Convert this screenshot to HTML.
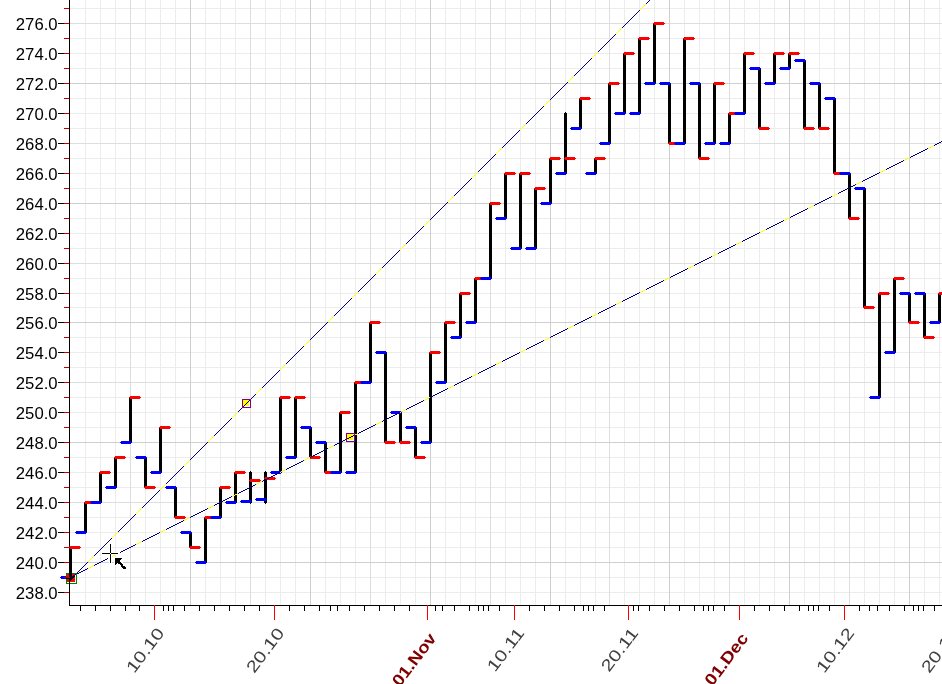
<!DOCTYPE html>
<html><head><meta charset="utf-8"><title>Chart</title>
<style>html,body{margin:0;padding:0;background:#fff;overflow:hidden}body{width:942px;height:684px;position:relative}</style></head>
<body>
<svg width="942" height="684" viewBox="0 0 942 684" style="display:block;position:absolute;left:0;top:0">
<rect width="942" height="684" fill="#fff"/>
<path d="M85.5 0V605M100.5 0V605M115.5 0V605M145.5 0V605M160.5 0V605M175.5 0V605M205.5 0V605M220.5 0V605M235.5 0V605M265.5 0V605M280.5 0V605M295.5 0V605M325.5 0V605M340.5 0V605M355.5 0V605M385.5 0V605M400.5 0V605M415.5 0V605M445.5 0V605M460.5 0V605M475.5 0V605M505.5 0V605M520.5 0V605M535.5 0V605M565.5 0V605M580.5 0V605M595.5 0V605M624.5 0V605M639.5 0V605M654.5 0V605M684.5 0V605M699.5 0V605M714.5 0V605M744.5 0V605M759.5 0V605M774.5 0V605M804.5 0V605M819.5 0V605M834.5 0V605M864.5 0V605M879.5 0V605M894.5 0V605M924.5 0V605M939.5 0V605M70 592.5H942M70 577.5H942M70 547.5H942M70 532.5H942M70 517.5H942M70 487.5H942M70 472.5H942M70 457.5H942M70 427.5H942M70 412.5H942M70 397.5H942M70 367.5H942M70 352.5H942M70 337.5H942M70 307.5H942M70 293.5H942M70 278.5H942M70 248.5H942M70 233.5H942M70 218.5H942M70 188.5H942M70 173.5H942M70 158.5H942M70 128.5H942M70 113.5H942M70 98.5H942M70 68.5H942M70 53.5H942M70 38.5H942M70 8.5H942" stroke="#ececec" stroke-width="1" fill="none" shape-rendering="crispEdges"/>
<path d="M130.5 0V605M250.5 0V605M370.5 0V605M490.5 0V605M609.5 0V605M729.5 0V605M849.5 0V605M70 502.5H942M70 382.5H942M70 263.5H942M70 143.5H942M70 23.5H942" stroke="#dedede" stroke-width="1" fill="none" shape-rendering="crispEdges"/>
<path d="M190.5 0V605M310.5 0V605M430.5 0V605M550.5 0V605M669.5 0V605M789.5 0V605M909.5 0V605M70 562.5H942M70 442.5H942M70 322.5H942M70 203.5H942M70 83.5H942" stroke="#cfcfcf" stroke-width="1" fill="none" shape-rendering="crispEdges"/>
<path d="M58 592.5H64M58 562.5H64M58 532.5H64M58 502.5H64M58 472.5H64M58 442.5H64M58 412.5H64M58 382.5H64M58 352.5H64M58 322.5H64M58 293.5H64M58 263.5H64M58 233.5H64M58 203.5H64M58 173.5H64M58 143.5H64M58 113.5H64M58 83.5H64M58 53.5H64M58 23.5H64" stroke="#000" stroke-width="1" shape-rendering="crispEdges"/>
<path d="M64 592.5H69M64 577.5H69M64 562.5H69M64 547.5H69M64 532.5H69M64 517.5H69M64 502.5H69M64 487.5H69M64 472.5H69M64 457.5H69M64 442.5H69M64 427.5H69M64 412.5H69M64 397.5H69M64 382.5H69M64 367.5H69M64 352.5H69M64 337.5H69M64 322.5H69M64 307.5H69M64 293.5H69M64 278.5H69M64 263.5H69M64 248.5H69M64 233.5H69M64 218.5H69M64 203.5H69M64 188.5H69M64 173.5H69M64 158.5H69M64 143.5H69M64 128.5H69M64 113.5H69M64 98.5H69M64 83.5H69M64 68.5H69M64 53.5H69M64 38.5H69M64 23.5H69M64 8.5H69" stroke="#c00000" stroke-width="1" shape-rendering="crispEdges"/>
<path d="M69.5 0V606M69 605.5H942" stroke="#000" stroke-width="1" fill="none" shape-rendering="crispEdges"/>
<path d="M80.5 606V611M95.5 606V611M110.5 606V611M125.5 606V611M139.5 606V611M163.5 606V611M168.5 606V611M173.5 606V611M184.5 606V611M199.5 606V611M214.5 606V611M229.5 606V611M244.5 606V611M259.5 606V611M289.5 606V611M304.5 606V611M319.5 606V611M330.5 606V611M337.5 606V611M349.5 606V611M364.5 606V611M379.5 606V611M394.5 606V611M409.5 606V611M435.5 606V611M442.5 606V611M454.5 606V611M469.5 606V611M478.5 606V611M483.5 606V611M488.5 606V611M499.5 606V611M529.5 606V611M544.5 606V611M559.5 606V611M574.5 606V611M583.5 606V611M588.5 606V611M593.5 606V611M604.5 606V611M633.5 606V611M638.5 606V611M649.5 606V611M664.5 606V611M679.5 606V611M694.5 606V611M703.5 606V611M708.5 606V611M713.5 606V611M724.5 606V611M754.5 606V611M769.5 606V611M784.5 606V611M799.5 606V611M808.5 606V611M813.5 606V611M818.5 606V611M829.5 606V611M859.5 606V611M869.5 606V611M877.5 606V611M889.5 606V611M904.5 606V611M913.5 606V611M918.5 606V611M923.5 606V611M934.5 606V611" stroke="#000" stroke-width="1" shape-rendering="crispEdges"/>
<path d="M154.5 605V620M274.5 605V620M427.5 605V620M514.5 605V620M628.5 605V620M739.5 605V620M844.5 605V620M949.5 605V620" stroke="#ff0000" stroke-width="1" shape-rendering="crispEdges"/>
<g font-family="'Liberation Sans',Arial,sans-serif" font-size="16.7" fill="#000" text-anchor="end">
<text x="57.6" y="598.7">238.0</text>
<text x="57.6" y="568.7">240.0</text>
<text x="57.6" y="538.7">242.0</text>
<text x="57.6" y="508.7">244.0</text>
<text x="57.6" y="478.7">246.0</text>
<text x="57.6" y="448.7">248.0</text>
<text x="57.6" y="418.7">250.0</text>
<text x="57.6" y="388.7">252.0</text>
<text x="57.6" y="358.7">254.0</text>
<text x="57.6" y="328.7">256.0</text>
<text x="57.6" y="299.7">258.0</text>
<text x="57.6" y="269.7">260.0</text>
<text x="57.6" y="239.7">262.0</text>
<text x="57.6" y="209.7">264.0</text>
<text x="57.6" y="179.7">266.0</text>
<text x="57.6" y="149.7">268.0</text>
<text x="57.6" y="119.7">270.0</text>
<text x="57.6" y="89.7">272.0</text>
<text x="57.6" y="59.7">274.0</text>
<text x="57.6" y="29.7">276.0</text>
</g>
<text transform="translate(165.0 633.1) rotate(-53) scale(1.24 1)" text-anchor="end" font-family="'Liberation Sans',Arial,sans-serif" font-size="16.5" fill="#404040">10.10</text>
<text transform="translate(285.0 633.1) rotate(-53) scale(1.24 1)" text-anchor="end" font-family="'Liberation Sans',Arial,sans-serif" font-size="16.5" fill="#404040">20.10</text>
<text transform="translate(437.1 638.3000000000001) rotate(-53) scale(1.14 1)" text-anchor="end" font-family="'Liberation Sans',Arial,sans-serif" font-size="16.5" font-weight="bold" fill="#800000">01.Nov</text>
<text transform="translate(525.0 633.1) rotate(-53) scale(1.24 1)" text-anchor="end" font-family="'Liberation Sans',Arial,sans-serif" font-size="16.5" fill="#404040">10.11</text>
<text transform="translate(639.0 633.1) rotate(-53) scale(1.24 1)" text-anchor="end" font-family="'Liberation Sans',Arial,sans-serif" font-size="16.5" fill="#404040">20.11</text>
<text transform="translate(749.1 638.3000000000001) rotate(-53) scale(1.14 1)" text-anchor="end" font-family="'Liberation Sans',Arial,sans-serif" font-size="16.5" font-weight="bold" fill="#800000">01.Dec</text>
<text transform="translate(855.0 633.1) rotate(-53) scale(1.24 1)" text-anchor="end" font-family="'Liberation Sans',Arial,sans-serif" font-size="16.5" fill="#404040">10.12</text>
<text transform="translate(960.0 633.1) rotate(-53) scale(1.24 1)" text-anchor="end" font-family="'Liberation Sans',Arial,sans-serif" font-size="16.5" fill="#404040">20.12</text>
<g shape-rendering="crispEdges"><path d="M70.0 546.0h1v33.0h-1zM69.0 547.0h3v31.0h-3z" fill="#000"/><path d="M69.0 547.0h12.0v1h-12.0zM70.0 546.0h10.0v3h-10.0z" fill="#ff0000"/><path d="M60.0 577.0h12.0v1h-12.0zM61.0 576.0h10.0v3h-10.0z" fill="#0000ff"/></g>
<g shape-rendering="crispEdges"><path d="M85.0 501.0h1v33.0h-1zM84.0 502.0h3v31.0h-3z" fill="#000"/><path d="M84.0 502.0h12.0v1h-12.0zM85.0 501.0h10.0v3h-10.0z" fill="#ff0000"/><path d="M75.0 532.0h12.0v1h-12.0zM76.0 531.0h10.0v3h-10.0z" fill="#0000ff"/></g>
<g shape-rendering="crispEdges"><path d="M100.0 471.0h1v33.0h-1zM99.0 472.0h3v31.0h-3z" fill="#000"/><path d="M99.0 472.0h12.0v1h-12.0zM100.0 471.0h10.0v3h-10.0z" fill="#ff0000"/><path d="M90.0 502.0h12.0v1h-12.0zM91.0 501.0h10.0v3h-10.0z" fill="#0000ff"/></g>
<g shape-rendering="crispEdges"><path d="M115.0 456.0h1v33.0h-1zM114.0 457.0h3v31.0h-3z" fill="#000"/><path d="M114.0 457.0h12.0v1h-12.0zM115.0 456.0h10.0v3h-10.0z" fill="#ff0000"/><path d="M105.0 487.0h12.0v1h-12.0zM106.0 486.0h10.0v3h-10.0z" fill="#0000ff"/></g>
<g shape-rendering="crispEdges"><path d="M130.0 396.0h1v48.0h-1zM129.0 397.0h3v46.0h-3z" fill="#000"/><path d="M129.0 397.0h12.0v1h-12.0zM130.0 396.0h10.0v3h-10.0z" fill="#ff0000"/><path d="M120.0 442.0h12.0v1h-12.0zM121.0 441.0h10.0v3h-10.0z" fill="#0000ff"/></g>
<g shape-rendering="crispEdges"><path d="M145.0 456.0h1v33.0h-1zM144.0 457.0h3v31.0h-3z" fill="#000"/><path d="M144.0 487.0h12.0v1h-12.0zM145.0 486.0h10.0v3h-10.0z" fill="#ff0000"/><path d="M135.0 457.0h12.0v1h-12.0zM136.0 456.0h10.0v3h-10.0z" fill="#0000ff"/></g>
<g shape-rendering="crispEdges"><path d="M160.0 426.0h1v48.0h-1zM159.0 427.0h3v46.0h-3z" fill="#000"/><path d="M159.0 427.0h12.0v1h-12.0zM160.0 426.0h10.0v3h-10.0z" fill="#ff0000"/><path d="M150.0 472.0h12.0v1h-12.0zM151.0 471.0h10.0v3h-10.0z" fill="#0000ff"/></g>
<g shape-rendering="crispEdges"><path d="M175.0 486.0h1v33.0h-1zM174.0 487.0h3v31.0h-3z" fill="#000"/><path d="M174.0 517.0h12.0v1h-12.0zM175.0 516.0h10.0v3h-10.0z" fill="#ff0000"/><path d="M165.0 487.0h12.0v1h-12.0zM166.0 486.0h10.0v3h-10.0z" fill="#0000ff"/></g>
<g shape-rendering="crispEdges"><path d="M190.0 531.0h1v18.0h-1zM189.0 532.0h3v16.0h-3z" fill="#000"/><path d="M189.0 547.0h12.0v1h-12.0zM190.0 546.0h10.0v3h-10.0z" fill="#ff0000"/><path d="M180.0 532.0h12.0v1h-12.0zM181.0 531.0h10.0v3h-10.0z" fill="#0000ff"/></g>
<g shape-rendering="crispEdges"><path d="M205.0 516.0h1v48.0h-1zM204.0 517.0h3v46.0h-3z" fill="#000"/><path d="M204.0 517.0h12.0v1h-12.0zM205.0 516.0h10.0v3h-10.0z" fill="#ff0000"/><path d="M195.0 562.0h12.0v1h-12.0zM196.0 561.0h10.0v3h-10.0z" fill="#0000ff"/></g>
<g shape-rendering="crispEdges"><path d="M220.0 486.0h1v33.0h-1zM219.0 487.0h3v31.0h-3z" fill="#000"/><path d="M219.0 487.0h12.0v1h-12.0zM220.0 486.0h10.0v3h-10.0z" fill="#ff0000"/><path d="M210.0 517.0h12.0v1h-12.0zM211.0 516.0h10.0v3h-10.0z" fill="#0000ff"/></g>
<g shape-rendering="crispEdges"><path d="M235.0 471.0h1v33.0h-1zM234.0 472.0h3v31.0h-3z" fill="#000"/><path d="M234.0 472.0h12.0v1h-12.0zM235.0 471.0h10.0v3h-10.0z" fill="#ff0000"/><path d="M225.0 502.0h12.0v1h-12.0zM226.0 501.0h10.0v3h-10.0z" fill="#0000ff"/></g>
<g shape-rendering="crispEdges"><path d="M250.0 471.0h1v33.0h-1zM249.0 472.0h3v31.0h-3z" fill="#000"/><path d="M249.0 480.0h12.0v1h-12.0zM250.0 479.0h10.0v3h-10.0z" fill="#ff0000"/><path d="M240.0 501.0h12.0v1h-12.0zM241.0 500.0h10.0v3h-10.0z" fill="#0000ff"/></g>
<g shape-rendering="crispEdges"><path d="M265.0 471.0h1v33.0h-1zM264.0 472.0h3v31.0h-3z" fill="#000"/><path d="M264.0 478.0h12.0v1h-12.0zM265.0 477.0h10.0v3h-10.0z" fill="#ff0000"/><path d="M255.0 499.0h12.0v1h-12.0zM256.0 498.0h10.0v3h-10.0z" fill="#0000ff"/></g>
<g shape-rendering="crispEdges"><path d="M280.0 396.0h1v78.0h-1zM279.0 397.0h3v76.0h-3z" fill="#000"/><path d="M279.0 397.0h12.0v1h-12.0zM280.0 396.0h10.0v3h-10.0z" fill="#ff0000"/><path d="M270.0 472.0h12.0v1h-12.0zM271.0 471.0h10.0v3h-10.0z" fill="#0000ff"/></g>
<g shape-rendering="crispEdges"><path d="M295.0 396.0h1v63.0h-1zM294.0 397.0h3v61.0h-3z" fill="#000"/><path d="M294.0 397.0h12.0v1h-12.0zM295.0 396.0h10.0v3h-10.0z" fill="#ff0000"/><path d="M285.0 457.0h12.0v1h-12.0zM286.0 456.0h10.0v3h-10.0z" fill="#0000ff"/></g>
<g shape-rendering="crispEdges"><path d="M310.0 426.0h1v33.0h-1zM309.0 427.0h3v31.0h-3z" fill="#000"/><path d="M309.0 457.0h12.0v1h-12.0zM310.0 456.0h10.0v3h-10.0z" fill="#ff0000"/><path d="M300.0 427.0h12.0v1h-12.0zM301.0 426.0h10.0v3h-10.0z" fill="#0000ff"/></g>
<g shape-rendering="crispEdges"><path d="M325.0 441.0h1v33.0h-1zM324.0 442.0h3v31.0h-3z" fill="#000"/><path d="M324.0 472.0h12.0v1h-12.0zM325.0 471.0h10.0v3h-10.0z" fill="#ff0000"/><path d="M315.0 442.0h12.0v1h-12.0zM316.0 441.0h10.0v3h-10.0z" fill="#0000ff"/></g>
<g shape-rendering="crispEdges"><path d="M340.0 411.0h1v63.0h-1zM339.0 412.0h3v61.0h-3z" fill="#000"/><path d="M339.0 412.0h12.0v1h-12.0zM340.0 411.0h10.0v3h-10.0z" fill="#ff0000"/><path d="M330.0 472.0h12.0v1h-12.0zM331.0 471.0h10.0v3h-10.0z" fill="#0000ff"/></g>
<g shape-rendering="crispEdges"><path d="M355.0 381.0h1v93.0h-1zM354.0 382.0h3v91.0h-3z" fill="#000"/><path d="M354.0 382.0h12.0v1h-12.0zM355.0 381.0h10.0v3h-10.0z" fill="#ff0000"/><path d="M345.0 472.0h12.0v1h-12.0zM346.0 471.0h10.0v3h-10.0z" fill="#0000ff"/></g>
<g shape-rendering="crispEdges"><path d="M370.0 321.0h1v63.0h-1zM369.0 322.0h3v61.0h-3z" fill="#000"/><path d="M369.0 322.0h12.0v1h-12.0zM370.0 321.0h10.0v3h-10.0z" fill="#ff0000"/><path d="M360.0 382.0h12.0v1h-12.0zM361.0 381.0h10.0v3h-10.0z" fill="#0000ff"/></g>
<g shape-rendering="crispEdges"><path d="M385.0 351.0h1v93.0h-1zM384.0 352.0h3v91.0h-3z" fill="#000"/><path d="M384.0 442.0h12.0v1h-12.0zM385.0 441.0h10.0v3h-10.0z" fill="#ff0000"/><path d="M375.0 352.0h12.0v1h-12.0zM376.0 351.0h10.0v3h-10.0z" fill="#0000ff"/></g>
<g shape-rendering="crispEdges"><path d="M400.0 411.0h1v33.0h-1zM399.0 412.0h3v31.0h-3z" fill="#000"/><path d="M399.0 442.0h12.0v1h-12.0zM400.0 441.0h10.0v3h-10.0z" fill="#ff0000"/><path d="M390.0 412.0h12.0v1h-12.0zM391.0 411.0h10.0v3h-10.0z" fill="#0000ff"/></g>
<g shape-rendering="crispEdges"><path d="M415.0 426.0h1v33.0h-1zM414.0 427.0h3v31.0h-3z" fill="#000"/><path d="M414.0 457.0h12.0v1h-12.0zM415.0 456.0h10.0v3h-10.0z" fill="#ff0000"/><path d="M405.0 427.0h12.0v1h-12.0zM406.0 426.0h10.0v3h-10.0z" fill="#0000ff"/></g>
<g shape-rendering="crispEdges"><path d="M430.0 351.0h1v93.0h-1zM429.0 352.0h3v91.0h-3z" fill="#000"/><path d="M429.0 352.0h12.0v1h-12.0zM430.0 351.0h10.0v3h-10.0z" fill="#ff0000"/><path d="M420.0 442.0h12.0v1h-12.0zM421.0 441.0h10.0v3h-10.0z" fill="#0000ff"/></g>
<g shape-rendering="crispEdges"><path d="M445.0 321.0h1v63.0h-1zM444.0 322.0h3v61.0h-3z" fill="#000"/><path d="M444.0 322.0h12.0v1h-12.0zM445.0 321.0h10.0v3h-10.0z" fill="#ff0000"/><path d="M435.0 382.0h12.0v1h-12.0zM436.0 381.0h10.0v3h-10.0z" fill="#0000ff"/></g>
<g shape-rendering="crispEdges"><path d="M460.0 292.0h1v47.0h-1zM459.0 293.0h3v45.0h-3z" fill="#000"/><path d="M459.0 293.0h12.0v1h-12.0zM460.0 292.0h10.0v3h-10.0z" fill="#ff0000"/><path d="M450.0 337.0h12.0v1h-12.0zM451.0 336.0h10.0v3h-10.0z" fill="#0000ff"/></g>
<g shape-rendering="crispEdges"><path d="M475.0 277.0h1v47.0h-1zM474.0 278.0h3v45.0h-3z" fill="#000"/><path d="M474.0 278.0h12.0v1h-12.0zM475.0 277.0h10.0v3h-10.0z" fill="#ff0000"/><path d="M465.0 322.0h12.0v1h-12.0zM466.0 321.0h10.0v3h-10.0z" fill="#0000ff"/></g>
<g shape-rendering="crispEdges"><path d="M490.0 202.0h1v78.0h-1zM489.0 203.0h3v76.0h-3z" fill="#000"/><path d="M489.0 203.0h12.0v1h-12.0zM490.0 202.0h10.0v3h-10.0z" fill="#ff0000"/><path d="M480.0 278.0h12.0v1h-12.0zM481.0 277.0h10.0v3h-10.0z" fill="#0000ff"/></g>
<g shape-rendering="crispEdges"><path d="M505.0 172.0h1v48.0h-1zM504.0 173.0h3v46.0h-3z" fill="#000"/><path d="M504.0 173.0h12.0v1h-12.0zM505.0 172.0h10.0v3h-10.0z" fill="#ff0000"/><path d="M495.0 218.0h12.0v1h-12.0zM496.0 217.0h10.0v3h-10.0z" fill="#0000ff"/></g>
<g shape-rendering="crispEdges"><path d="M520.0 172.0h1v78.0h-1zM519.0 173.0h3v76.0h-3z" fill="#000"/><path d="M519.0 173.0h12.0v1h-12.0zM520.0 172.0h10.0v3h-10.0z" fill="#ff0000"/><path d="M510.0 248.0h12.0v1h-12.0zM511.0 247.0h10.0v3h-10.0z" fill="#0000ff"/></g>
<g shape-rendering="crispEdges"><path d="M535.0 187.0h1v63.0h-1zM534.0 188.0h3v61.0h-3z" fill="#000"/><path d="M534.0 188.0h12.0v1h-12.0zM535.0 187.0h10.0v3h-10.0z" fill="#ff0000"/><path d="M525.0 248.0h12.0v1h-12.0zM526.0 247.0h10.0v3h-10.0z" fill="#0000ff"/></g>
<g shape-rendering="crispEdges"><path d="M550.0 157.0h1v48.0h-1zM549.0 158.0h3v46.0h-3z" fill="#000"/><path d="M549.0 158.0h12.0v1h-12.0zM550.0 157.0h10.0v3h-10.0z" fill="#ff0000"/><path d="M540.0 203.0h12.0v1h-12.0zM541.0 202.0h10.0v3h-10.0z" fill="#0000ff"/></g>
<g shape-rendering="crispEdges"><path d="M565.0 112.0h1v63.0h-1zM564.0 113.0h3v61.0h-3z" fill="#000"/><path d="M564.0 158.0h12.0v1h-12.0zM565.0 157.0h10.0v3h-10.0z" fill="#ff0000"/><path d="M555.0 173.0h12.0v1h-12.0zM556.0 172.0h10.0v3h-10.0z" fill="#0000ff"/></g>
<g shape-rendering="crispEdges"><path d="M580.0 97.0h1v33.0h-1zM579.0 98.0h3v31.0h-3z" fill="#000"/><path d="M579.0 98.0h12.0v1h-12.0zM580.0 97.0h10.0v3h-10.0z" fill="#ff0000"/><path d="M570.0 128.0h12.0v1h-12.0zM571.0 127.0h10.0v3h-10.0z" fill="#0000ff"/></g>
<g shape-rendering="crispEdges"><path d="M595.0 157.0h1v18.0h-1zM594.0 158.0h3v16.0h-3z" fill="#000"/><path d="M594.0 158.0h12.0v1h-12.0zM595.0 157.0h10.0v3h-10.0z" fill="#ff0000"/><path d="M585.0 173.0h12.0v1h-12.0zM586.0 172.0h10.0v3h-10.0z" fill="#0000ff"/></g>
<g shape-rendering="crispEdges"><path d="M609.0 82.0h1v63.0h-1zM608.0 83.0h3v61.0h-3z" fill="#000"/><path d="M608.0 83.0h12.0v1h-12.0zM609.0 82.0h10.0v3h-10.0z" fill="#ff0000"/><path d="M599.0 143.0h12.0v1h-12.0zM600.0 142.0h10.0v3h-10.0z" fill="#0000ff"/></g>
<g shape-rendering="crispEdges"><path d="M624.0 52.0h1v63.0h-1zM623.0 53.0h3v61.0h-3z" fill="#000"/><path d="M623.0 53.0h12.0v1h-12.0zM624.0 52.0h10.0v3h-10.0z" fill="#ff0000"/><path d="M614.0 113.0h12.0v1h-12.0zM615.0 112.0h10.0v3h-10.0z" fill="#0000ff"/></g>
<g shape-rendering="crispEdges"><path d="M639.0 37.0h1v78.0h-1zM638.0 38.0h3v76.0h-3z" fill="#000"/><path d="M638.0 38.0h12.0v1h-12.0zM639.0 37.0h10.0v3h-10.0z" fill="#ff0000"/><path d="M629.0 113.0h12.0v1h-12.0zM630.0 112.0h10.0v3h-10.0z" fill="#0000ff"/></g>
<g shape-rendering="crispEdges"><path d="M654.0 22.0h1v63.0h-1zM653.0 23.0h3v61.0h-3z" fill="#000"/><path d="M653.0 23.0h12.0v1h-12.0zM654.0 22.0h10.0v3h-10.0z" fill="#ff0000"/><path d="M644.0 83.0h12.0v1h-12.0zM645.0 82.0h10.0v3h-10.0z" fill="#0000ff"/></g>
<g shape-rendering="crispEdges"><path d="M669.0 82.0h1v63.0h-1zM668.0 83.0h3v61.0h-3z" fill="#000"/><path d="M668.0 143.0h12.0v1h-12.0zM669.0 142.0h10.0v3h-10.0z" fill="#ff0000"/><path d="M659.0 83.0h12.0v1h-12.0zM660.0 82.0h10.0v3h-10.0z" fill="#0000ff"/></g>
<g shape-rendering="crispEdges"><path d="M684.0 37.0h1v108.0h-1zM683.0 38.0h3v106.0h-3z" fill="#000"/><path d="M683.0 38.0h12.0v1h-12.0zM684.0 37.0h10.0v3h-10.0z" fill="#ff0000"/><path d="M674.0 143.0h12.0v1h-12.0zM675.0 142.0h10.0v3h-10.0z" fill="#0000ff"/></g>
<g shape-rendering="crispEdges"><path d="M699.0 82.0h1v78.0h-1zM698.0 83.0h3v76.0h-3z" fill="#000"/><path d="M698.0 158.0h12.0v1h-12.0zM699.0 157.0h10.0v3h-10.0z" fill="#ff0000"/><path d="M689.0 83.0h12.0v1h-12.0zM690.0 82.0h10.0v3h-10.0z" fill="#0000ff"/></g>
<g shape-rendering="crispEdges"><path d="M714.0 82.0h1v63.0h-1zM713.0 83.0h3v61.0h-3z" fill="#000"/><path d="M713.0 83.0h12.0v1h-12.0zM714.0 82.0h10.0v3h-10.0z" fill="#ff0000"/><path d="M704.0 143.0h12.0v1h-12.0zM705.0 142.0h10.0v3h-10.0z" fill="#0000ff"/></g>
<g shape-rendering="crispEdges"><path d="M729.0 112.0h1v33.0h-1zM728.0 113.0h3v31.0h-3z" fill="#000"/><path d="M728.0 113.0h12.0v1h-12.0zM729.0 112.0h10.0v3h-10.0z" fill="#ff0000"/><path d="M719.0 143.0h12.0v1h-12.0zM720.0 142.0h10.0v3h-10.0z" fill="#0000ff"/></g>
<g shape-rendering="crispEdges"><path d="M744.0 52.0h1v63.0h-1zM743.0 53.0h3v61.0h-3z" fill="#000"/><path d="M743.0 53.0h12.0v1h-12.0zM744.0 52.0h10.0v3h-10.0z" fill="#ff0000"/><path d="M734.0 113.0h12.0v1h-12.0zM735.0 112.0h10.0v3h-10.0z" fill="#0000ff"/></g>
<g shape-rendering="crispEdges"><path d="M759.0 67.0h1v63.0h-1zM758.0 68.0h3v61.0h-3z" fill="#000"/><path d="M758.0 128.0h12.0v1h-12.0zM759.0 127.0h10.0v3h-10.0z" fill="#ff0000"/><path d="M749.0 68.0h12.0v1h-12.0zM750.0 67.0h10.0v3h-10.0z" fill="#0000ff"/></g>
<g shape-rendering="crispEdges"><path d="M774.0 52.0h1v33.0h-1zM773.0 53.0h3v31.0h-3z" fill="#000"/><path d="M773.0 53.0h12.0v1h-12.0zM774.0 52.0h10.0v3h-10.0z" fill="#ff0000"/><path d="M764.0 83.0h12.0v1h-12.0zM765.0 82.0h10.0v3h-10.0z" fill="#0000ff"/></g>
<g shape-rendering="crispEdges"><path d="M789.0 52.0h1v18.0h-1zM788.0 53.0h3v16.0h-3z" fill="#000"/><path d="M788.0 53.0h12.0v1h-12.0zM789.0 52.0h10.0v3h-10.0z" fill="#ff0000"/><path d="M779.0 68.0h12.0v1h-12.0zM780.0 67.0h10.0v3h-10.0z" fill="#0000ff"/></g>
<g shape-rendering="crispEdges"><path d="M804.0 59.0h1v71.0h-1zM803.0 60.0h3v69.0h-3z" fill="#000"/><path d="M803.0 128.0h12.0v1h-12.0zM804.0 127.0h10.0v3h-10.0z" fill="#ff0000"/><path d="M794.0 60.0h12.0v1h-12.0zM795.0 59.0h10.0v3h-10.0z" fill="#0000ff"/></g>
<g shape-rendering="crispEdges"><path d="M819.0 82.0h1v48.0h-1zM818.0 83.0h3v46.0h-3z" fill="#000"/><path d="M818.0 128.0h12.0v1h-12.0zM819.0 127.0h10.0v3h-10.0z" fill="#ff0000"/><path d="M809.0 83.0h12.0v1h-12.0zM810.0 82.0h10.0v3h-10.0z" fill="#0000ff"/></g>
<g shape-rendering="crispEdges"><path d="M834.0 97.0h1v78.0h-1zM833.0 98.0h3v76.0h-3z" fill="#000"/><path d="M833.0 173.0h12.0v1h-12.0zM834.0 172.0h10.0v3h-10.0z" fill="#ff0000"/><path d="M824.0 98.0h12.0v1h-12.0zM825.0 97.0h10.0v3h-10.0z" fill="#0000ff"/></g>
<g shape-rendering="crispEdges"><path d="M849.0 172.0h1v48.0h-1zM848.0 173.0h3v46.0h-3z" fill="#000"/><path d="M848.0 218.0h12.0v1h-12.0zM849.0 217.0h10.0v3h-10.0z" fill="#ff0000"/><path d="M839.0 173.0h12.0v1h-12.0zM840.0 172.0h10.0v3h-10.0z" fill="#0000ff"/></g>
<g shape-rendering="crispEdges"><path d="M864.0 187.0h1v122.0h-1zM863.0 188.0h3v120.0h-3z" fill="#000"/><path d="M863.0 307.0h12.0v1h-12.0zM864.0 306.0h10.0v3h-10.0z" fill="#ff0000"/><path d="M854.0 188.0h12.0v1h-12.0zM855.0 187.0h10.0v3h-10.0z" fill="#0000ff"/></g>
<g shape-rendering="crispEdges"><path d="M879.0 292.0h1v107.0h-1zM878.0 293.0h3v105.0h-3z" fill="#000"/><path d="M878.0 293.0h12.0v1h-12.0zM879.0 292.0h10.0v3h-10.0z" fill="#ff0000"/><path d="M869.0 397.0h12.0v1h-12.0zM870.0 396.0h10.0v3h-10.0z" fill="#0000ff"/></g>
<g shape-rendering="crispEdges"><path d="M894.0 277.0h1v77.0h-1zM893.0 278.0h3v75.0h-3z" fill="#000"/><path d="M893.0 278.0h12.0v1h-12.0zM894.0 277.0h10.0v3h-10.0z" fill="#ff0000"/><path d="M884.0 352.0h12.0v1h-12.0zM885.0 351.0h10.0v3h-10.0z" fill="#0000ff"/></g>
<g shape-rendering="crispEdges"><path d="M909.0 292.0h1v32.0h-1zM908.0 293.0h3v30.0h-3z" fill="#000"/><path d="M908.0 322.0h12.0v1h-12.0zM909.0 321.0h10.0v3h-10.0z" fill="#ff0000"/><path d="M899.0 293.0h12.0v1h-12.0zM900.0 292.0h10.0v3h-10.0z" fill="#0000ff"/></g>
<g shape-rendering="crispEdges"><path d="M924.0 292.0h1v47.0h-1zM923.0 293.0h3v45.0h-3z" fill="#000"/><path d="M923.0 337.0h12.0v1h-12.0zM924.0 336.0h10.0v3h-10.0z" fill="#ff0000"/><path d="M914.0 293.0h12.0v1h-12.0zM915.0 292.0h10.0v3h-10.0z" fill="#0000ff"/></g>
<g shape-rendering="crispEdges"><path d="M939.0 292.0h1v32.0h-1zM938.0 293.0h3v30.0h-3z" fill="#000"/><path d="M938.0 293.0h12.0v1h-12.0zM939.0 292.0h10.0v3h-10.0z" fill="#ff0000"/><path d="M929.0 322.0h12.0v1h-12.0zM930.0 321.0h10.0v3h-10.0z" fill="#0000ff"/></g>
<path d="M70.00 579.50L650.00 -0.50V0.50L70.00 580.50Z" fill="#000080" shape-rendering="crispEdges"/>
<path d="M88.00 561.50L94.00 555.50V556.50L88.00 562.50ZM112.00 537.50L118.00 531.50V532.50L112.00 538.50ZM136.00 513.50L142.00 507.50V508.50L136.00 514.50ZM160.00 489.50L166.00 483.50V484.50L160.00 490.50ZM184.00 465.50L190.00 459.50V460.50L184.00 466.50ZM208.00 441.50L214.00 435.50V436.50L208.00 442.50ZM232.00 417.50L238.00 411.50V412.50L232.00 418.50ZM256.00 393.50L262.00 387.50V388.50L256.00 394.50ZM280.00 369.50L286.00 363.50V364.50L280.00 370.50ZM304.00 345.50L310.00 339.50V340.50L304.00 346.50ZM328.00 321.50L334.00 315.50V316.50L328.00 322.50ZM352.00 297.50L358.00 291.50V292.50L352.00 298.50ZM376.00 273.50L382.00 267.50V268.50L376.00 274.50ZM400.00 249.50L406.00 243.50V244.50L400.00 250.50ZM424.00 225.50L430.00 219.50V220.50L424.00 226.50ZM448.00 201.50L454.00 195.50V196.50L448.00 202.50ZM472.00 177.50L478.00 171.50V172.50L472.00 178.50ZM496.00 153.50L502.00 147.50V148.50L496.00 154.50ZM520.00 129.50L526.00 123.50V124.50L520.00 130.50ZM544.00 105.50L550.00 99.50V100.50L544.00 106.50ZM568.00 81.50L574.00 75.50V76.50L568.00 82.50ZM592.00 57.50L598.00 51.50V52.50L592.00 58.50ZM616.00 33.50L622.00 27.50V28.50L616.00 34.50ZM640.00 9.50L646.00 3.50V4.50L640.00 10.50Z" fill="#ffff00" shape-rendering="crispEdges"/>
<path d="M70.00 576.80L108.00 557.80V558.80L70.00 577.80ZM120.00 551.80L942.00 140.80V141.80L120.00 552.80Z" fill="#000080" shape-rendering="crispEdges"/>
<path d="M88.00 567.80L94.00 564.80V565.80L88.00 568.80ZM112.00 555.80L115.00 554.30V555.30L112.00 556.80ZM136.00 543.80L142.00 540.80V541.80L136.00 544.80ZM160.00 531.80L166.00 528.80V529.80L160.00 532.80ZM184.00 519.80L190.00 516.80V517.80L184.00 520.80ZM208.00 507.80L214.00 504.80V505.80L208.00 508.80ZM232.00 495.80L238.00 492.80V493.80L232.00 496.80ZM256.00 483.80L262.00 480.80V481.80L256.00 484.80ZM280.00 471.80L286.00 468.80V469.80L280.00 472.80ZM304.00 459.80L310.00 456.80V457.80L304.00 460.80ZM328.00 447.80L334.00 444.80V445.80L328.00 448.80ZM352.00 435.80L358.00 432.80V433.80L352.00 436.80ZM376.00 423.80L382.00 420.80V421.80L376.00 424.80ZM400.00 411.80L406.00 408.80V409.80L400.00 412.80ZM424.00 399.80L430.00 396.80V397.80L424.00 400.80ZM448.00 387.80L454.00 384.80V385.80L448.00 388.80ZM472.00 375.80L478.00 372.80V373.80L472.00 376.80ZM496.00 363.80L502.00 360.80V361.80L496.00 364.80ZM520.00 351.80L526.00 348.80V349.80L520.00 352.80ZM544.00 339.80L550.00 336.80V337.80L544.00 340.80ZM568.00 327.80L574.00 324.80V325.80L568.00 328.80ZM592.00 315.80L598.00 312.80V313.80L592.00 316.80ZM616.00 303.80L622.00 300.80V301.80L616.00 304.80ZM640.00 291.80L646.00 288.80V289.80L640.00 292.80ZM664.00 279.80L670.00 276.80V277.80L664.00 280.80ZM688.00 267.80L694.00 264.80V265.80L688.00 268.80ZM712.00 255.80L718.00 252.80V253.80L712.00 256.80ZM736.00 243.80L742.00 240.80V241.80L736.00 244.80ZM760.00 231.80L766.00 228.80V229.80L760.00 232.80ZM784.00 219.80L790.00 216.80V217.80L784.00 220.80ZM808.00 207.80L814.00 204.80V205.80L808.00 208.80ZM832.00 195.80L838.00 192.80V193.80L832.00 196.80ZM856.00 183.80L862.00 180.80V181.80L856.00 184.80ZM880.00 171.80L886.00 168.80V169.80L880.00 172.80ZM904.00 159.80L910.00 156.80V157.80L904.00 160.80ZM928.00 147.80L934.00 144.80V145.80L928.00 148.80Z" fill="#ffff00" shape-rendering="crispEdges"/>
<rect x="66.5" y="573.5" width="10" height="10" fill="#fff" stroke="#008000" stroke-width="1" shape-rendering="crispEdges"/>
<rect x="67.0" y="574.0" width="8" height="8" fill="#ff0000" shape-rendering="crispEdges"/>
<rect x="242.5" y="399.5" width="8" height="8" fill="#fff" stroke="#800080" stroke-width="1" shape-rendering="crispEdges"/>
<rect x="243.0" y="400.0" width="6" height="6" fill="#ffff00" shape-rendering="crispEdges"/>
<rect x="346.5" y="433.5" width="8" height="8" fill="#fff" stroke="#800080" stroke-width="1" shape-rendering="crispEdges"/>
<rect x="347.0" y="434.0" width="6" height="6" fill="#ffff00" shape-rendering="crispEdges"/>
<path d="M243.00 406.50L250.00 399.50V400.50L243.00 407.50ZM347.00 438.30L354.00 434.80V435.80L347.00 439.30Z" fill="#000080" shape-rendering="crispEdges"/>
<path d="M244.00 405.50L249.00 400.50V401.50L244.00 406.50ZM348.00 437.80L353.00 435.30V436.30L348.00 438.80Z" fill="#000" shape-rendering="crispEdges"/>
<path d="M69 573h3v6.5l-1.5 1.5h-0.5v3h-1zM66 576.5h4v2.5h-4z" fill="#000" shape-rendering="crispEdges"/>
<path d="M72 573.5H76" stroke="#008000" stroke-width="1" shape-rendering="crispEdges"/>
<path d="M70.5 580L73.5 577L75 575.5" stroke="#000" stroke-width="2" fill="none" shape-rendering="crispEdges"/>
<path d="M64 577.5H70" stroke="#c00000" stroke-width="1" shape-rendering="crispEdges"/>
<path d="M70 577.5L76 574.5" stroke="#000080" stroke-width="1" fill="none" shape-rendering="crispEdges"/>
<path d="M110.5 544V563M102 553.5H118" stroke="#fff" stroke-width="3" fill="none" shape-rendering="crispEdges"/>
<path d="M110.5 544V563M102 553.5H118" stroke="#000" stroke-width="1" fill="none" shape-rendering="crispEdges"/>
<rect x="110" y="553" width="1" height="1" fill="#fff"/>
<path d="M114 557h9v3h-9zM114 558h8v3h-8zM114 559h7v3h-7zM114 560h7v3h-7zM114 561h8v3h-8zM114 562h4v3h-4zM117 562h6v3h-6zM114 563h3v3h-3zM119 563h5v3h-5zM120 564h4v3h-4zM120 565h6v3h-6zM121 566h6v3h-6zM122 567h5v3h-5z" fill="#fff" shape-rendering="crispEdges"/>
<path d="M115 558h7v1h-7zM115 559h6v1h-6zM115 560h5v1h-5zM115 561h5v1h-5zM115 562h6v1h-6zM115 563h2v1h-2zM118 563h4v1h-4zM115 564h1v1h-1zM120 564h3v1h-3zM121 565h2v1h-2zM121 566h4v1h-4zM122 567h4v1h-4zM123 568h3v1h-3z" fill="#000" shape-rendering="crispEdges"/>
</svg>
</body></html>
